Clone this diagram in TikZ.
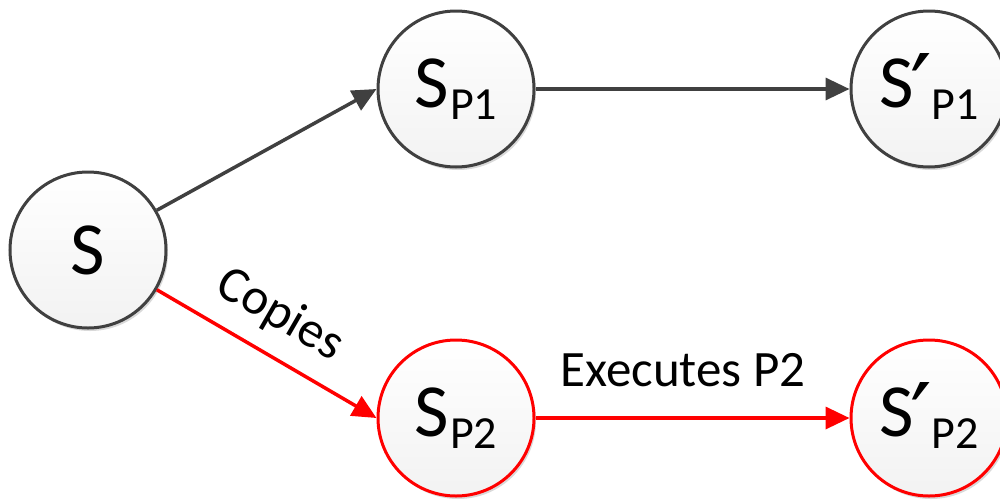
\documentclass[tikz,border=0pt]{standalone}
\usepackage{fontspec}
\setmainfont{Carlito}
\newfontfamily\symfont{DejaVu Sans}
\usetikzlibrary{arrows.meta,shadows}
\definecolor{ink}{HTML}{404040}
\definecolor{alert}{HTML}{FF0000}
% state label: big S, optional prime, lowered process tag
\newcommand\bigS{{\fontsize{75}{75}\selectfont S}}
\newcommand\tagP[1]{\hspace{1pt}\raisebox{-12pt}{\fontsize{46}{46}\selectfont #1}}
\newcommand\primemark{\hspace{-3pt}\smash{\raisebox{-16pt}{\symfont\fontsize{96}{96}\selectfont ′}}\hspace{-2pt}}
\begin{document}
\begin{tikzpicture}[x=1pt,y=-1pt,
  state/.style={circle, minimum size=156pt, inner sep=0pt, line width=3pt,
    draw=ink, top color=white, bottom color=black!5,
    drop shadow={shadow xshift=2pt, shadow yshift=-3pt, opacity=0.15, fill=black}},
  hot/.style={draw=alert},
  arr/.style={line width=3.5pt, draw=ink, -{Triangle[length=24pt,width=22pt]}},
  hotarr/.style={arr, draw=alert, fill=alert},
  lbl/.style={font=\fontsize{51}{51}\selectfont, inner sep=0pt}]
\useasboundingbox (0,0) rectangle (1000,501);
\node[state] (S)    at (88,250)  {\bigS};
\node[state] (SP1)  at (456,89)  {\bigS\tagP{P1}};
\node[state] (SP1b) at (929,89)  {\bigS\primemark\tagP{P1}};
\node[state,hot] (SP2)  at (456,418) {\bigS\tagP{P2}};
\node[state,hot] (SP2b) at (929,418) {\bigS\primemark\tagP{P2}};
\draw[arr, fill=ink] (S.30) -- (SP1.west);
\draw[arr, fill=ink] (SP1.east) -- (SP1b.west);
\draw[hotarr] (S.-30) -- (SP2.west);
\draw[hotarr] (SP2.east) -- (SP2b.west);
\node[lbl, rotate=-30] (cp) at (280,315) {Copies};
\node[lbl] (ex) at (683,370) {Executes P2};
\end{tikzpicture}
\end{document}
